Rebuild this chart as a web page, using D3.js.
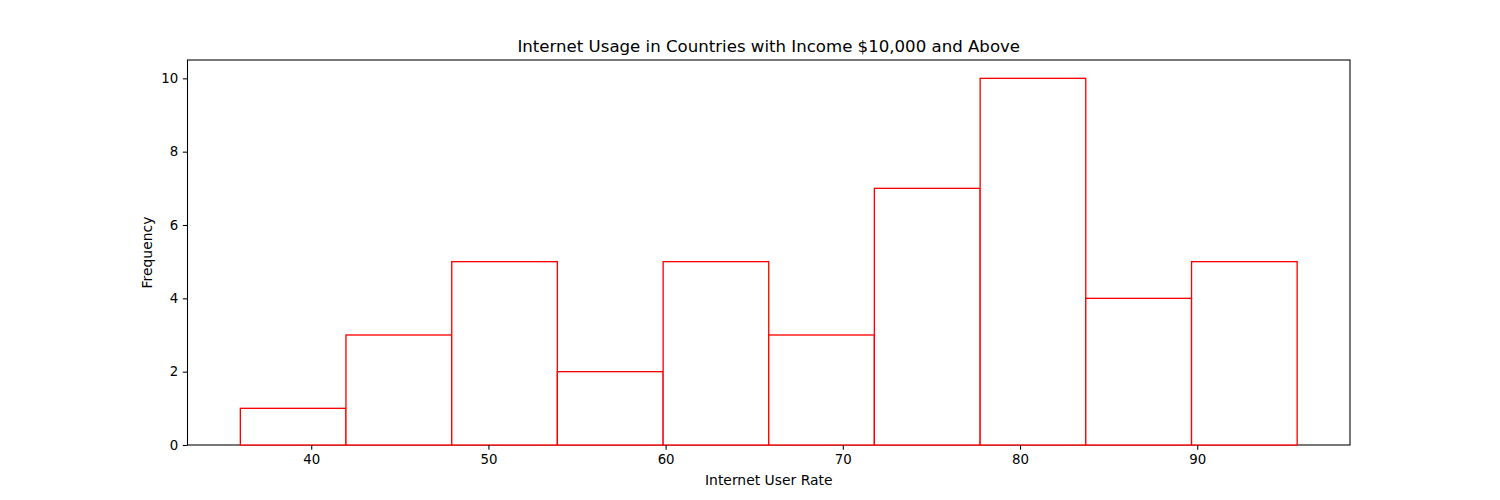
<!DOCTYPE html>
<html>
<head>
<meta charset="utf-8">
<script src="https://cdn.jsdelivr.net/npm/d3@7"></script>
<style>
  body { margin: 0; background: #fff; }
  text { font-family: "DejaVu Sans", sans-serif; fill: #000; }
</style>
</head>
<body>
<svg id="chart" width="1500" height="500"></svg>
<script>
// histogram bins
const binEdges = [36.0, 41.96, 47.93, 53.89, 59.86, 65.82, 71.78, 77.75, 83.71, 89.68, 95.64]
const counts = [1, 3, 5, 2, 5, 3, 7, 10, 4, 5]
const xTicks = [40, 50, 60, 70, 80, 90]
const yTicks = [0, 2, 4, 6, 8, 10]

const svg = d3.select("#chart")
const margin = { top: 60, right: 150, bottom: 55, left: 187.5 }
const width = 1500, height = 500

// matplotlib style 5% padding
const lo = binEdges[0], hi = binEdges[binEdges.length - 1]
const pad = (hi - lo) * 0.05
const x = d3.scaleLinear().domain([lo - pad, hi + pad]).range([margin.left, width - margin.right])
const ymax = d3.max(counts) * 1.05
const y = d3.scaleLinear().domain([0, ymax]).range([height - margin.bottom, margin.top])

const bins = counts.map((c, i) => ({ x0: binEdges[i], x1: binEdges[i + 1], n: c }))

// frame first so the red bar edges sit on top of the bottom line
svg.append("rect")
  .attr("x", margin.left).attr("y", margin.top)
  .attr("width", width - margin.right - margin.left)
  .attr("height", height - margin.bottom - margin.top)
  .style("fill", "none").style("stroke", "#000").style("stroke-width", 1.07)

svg.append("g").selectAll("rect").data(bins).join("rect")
  .attr("x", d => x(d.x0))
  .attr("y", d => y(d.n))
  .attr("width", d => x(d.x1) - x(d.x0))
  .attr("height", d => y(0) - y(d.n))
  .style("fill", "white")
  .style("stroke", "red")
  .style("stroke-width", 1.33)

// axes
const xAxis = svg.append("g").attr("transform", `translate(0,${height - margin.bottom})`)
  .call(d3.axisBottom(x).tickValues(xTicks).tickSize(4.67).tickPadding(4.67))
const yAxis = svg.append("g").attr("transform", `translate(${margin.left},0)`)
  .call(d3.axisLeft(y).tickValues(yTicks).tickSize(4.67).tickPadding(4.67))
;[xAxis, yAxis].forEach(g => {
  g.select(".domain").remove()
  g.selectAll("line").style("stroke", "#000").style("stroke-width", 1.07)
  g.selectAll("text").style("font-size", "13.33px").style("font-family", "DejaVu Sans")
})

svg.append("text").attr("x", (margin.left + width - margin.right) / 2).attr("y", 52)
  .attr("text-anchor", "middle").style("font-size", "16.6px")
  .text("Internet Usage in Countries with Income $10,000 and Above")
svg.append("text").attr("x", (margin.left + width - margin.right) / 2).attr("y", 485)
  .attr("text-anchor", "middle").style("font-size", "13.9px")
  .text("Internet User Rate")
svg.append("text").attr("transform", `translate(152,${(margin.top + height - margin.bottom) / 2}) rotate(-90)`)
  .attr("text-anchor", "middle").style("font-size", "13.9px")
  .text("Frequency")
</script>
</body>
</html>
